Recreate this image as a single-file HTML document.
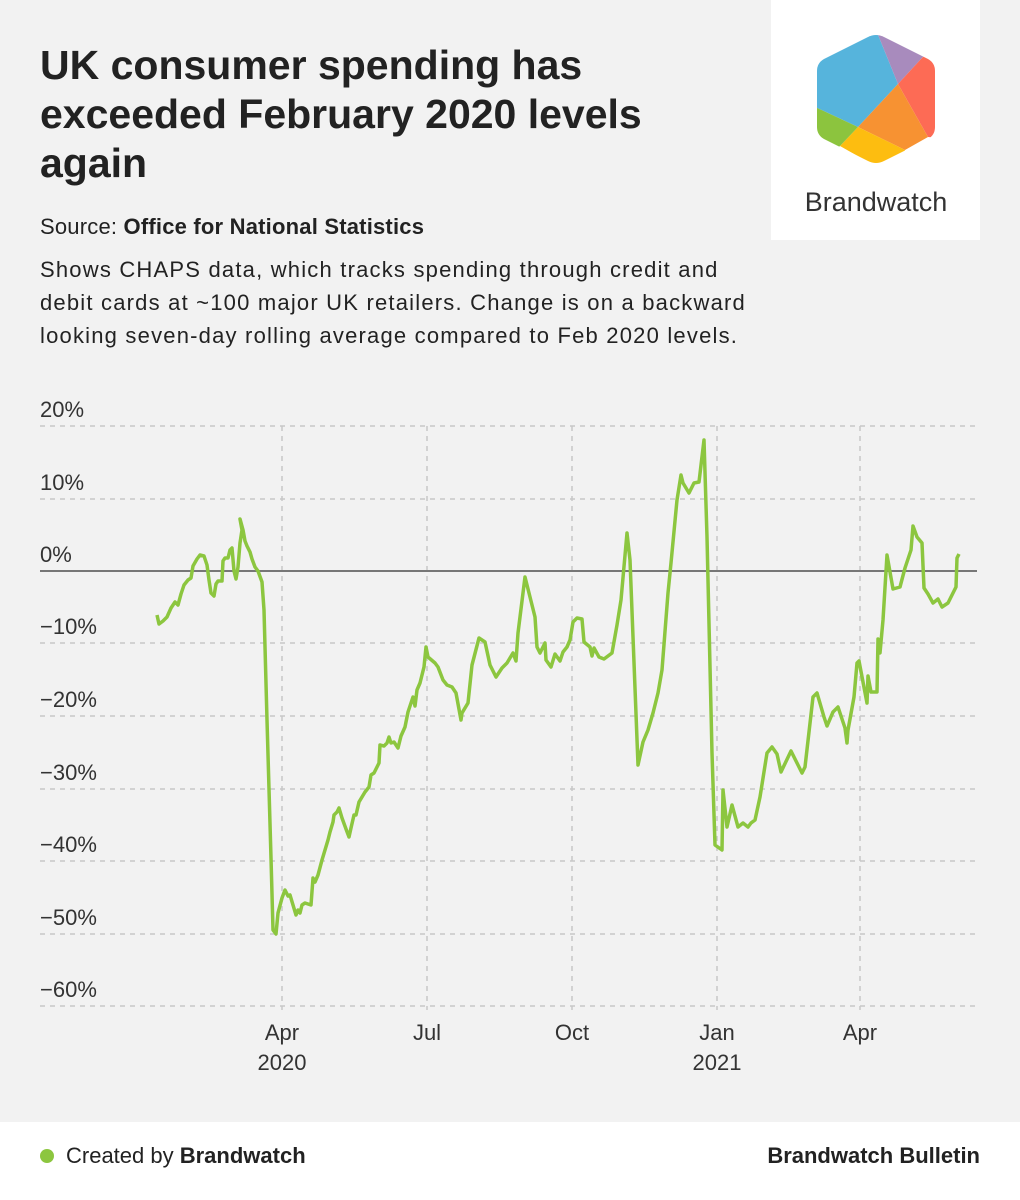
<!DOCTYPE html>
<html><head><meta charset="utf-8"><style>
body{margin:0;width:1020px;height:1200px;background:#f2f2f2;font-family:"Liberation Sans",sans-serif;position:relative;overflow:hidden;color:#222}
.t{position:absolute;left:40px;top:41px;font-size:41px;font-weight:bold;line-height:49px;width:700px;color:#222}
.src{position:absolute;left:40px;top:214px;font-size:22px;letter-spacing:0.2px}
.desc{position:absolute;left:40px;top:253px;font-size:22px;line-height:33px;width:720px;letter-spacing:1.2px;white-space:nowrap}
.logo{position:absolute;left:771px;top:0;width:209px;height:240px;background:#fff}
.foot{position:absolute;left:0;top:1122px;width:1020px;height:78px;background:#fff}
</style></head><body>
<div class="t">UK consumer spending has exceeded February 2020 levels again</div>
<div class="src">Source: <b>Office for National Statistics</b></div>
<div class="desc">Shows CHAPS data, which tracks spending through credit and<br>debit cards at ~100 major UK retailers. Change is on a backward<br>looking seven-day rolling average compared to Feb 2020 levels.</div>
<div class="logo"></div>
<svg width="1020" height="1200" style="position:absolute;left:0;top:0" font-family="Liberation Sans, sans-serif">
<defs><clipPath id="hx"><path d="M868,37 Q876,33 884,37 L928,59 Q935,63 935,71 L935,127 Q935,135 928,139 L884,161 Q876,165 868,161 L824,139 Q817,135 817,127 L817,71 Q817,63 824,59Z"/></clipPath></defs>
<g clip-path="url(#hx)">
<polygon points="800,20 872,20 898,84 858,127 800,100" fill="#56b4dc"/>
<polygon points="872,20 960,20 921,59 898,84" fill="#a88bbd"/>
<polygon points="921,59 960,20 960,140 928,137 898,84" fill="#fd6b55"/>
<polygon points="898,84 928,137 905,150 858,127" fill="#f79232"/>
<polygon points="858,127 905,150 900,180 840,146" fill="#fdbd10"/>
<polygon points="800,100 858,127 840,146 800,180" fill="#8cc43e"/>
</g>
<text x="876" y="211" font-size="27" fill="#333" text-anchor="middle">Brandwatch</text>
<g stroke="#c8c8c8" stroke-width="1.5" stroke-dasharray="5,5">
<line x1="40" x2="975" y1="426" y2="426"/><line x1="40" x2="975" y1="499" y2="499"/>
<line x1="40" x2="975" y1="643" y2="643"/><line x1="40" x2="975" y1="716" y2="716"/><line x1="40" x2="975" y1="789" y2="789"/><line x1="40" x2="975" y1="861" y2="861"/><line x1="40" x2="975" y1="934" y2="934"/><line x1="40" x2="975" y1="1006" y2="1006"/>
<line x1="282" x2="282" y1="426" y2="1010"/><line x1="427" x2="427" y1="426" y2="1010"/><line x1="572" x2="572" y1="426" y2="1010"/><line x1="717" x2="717" y1="426" y2="1010"/><line x1="860" x2="860" y1="426" y2="1010"/>
</g>
<line x1="40" x2="977" y1="571" y2="571" stroke="#777" stroke-width="2"/>
<g font-size="22" fill="#333">
<text x="40" y="417">20%</text><text x="40" y="490">10%</text><text x="40" y="562">0%</text><text x="40" y="634">−10%</text><text x="40" y="707">−20%</text><text x="40" y="780">−30%</text><text x="40" y="852">−40%</text><text x="40" y="925">−50%</text><text x="40" y="997">−60%</text>
<g text-anchor="middle"><text x="282" y="1040">Apr</text><text x="282" y="1070">2020</text><text x="427" y="1040">Jul</text><text x="572" y="1040">Oct</text><text x="717" y="1040">Jan</text><text x="717" y="1070">2021</text><text x="860" y="1040">Apr</text></g>
</g>
<polyline fill="none" stroke="#8cc63f" stroke-width="3.5" stroke-linejoin="round" points="157,615 159,624 163,621 167,617 171,608 175,602 178,605 181,594 184,585 188,580 191,578 193,566 197,559 200,555 204,556 207,565 209,580 211,593 214,596 216,584 218,581 222,581 223,561 225,558 228,558 230,550 232,548 234,571 236,579 238,567 240,543 242,530 240,519 243,530 245,541 247,546 250,552 252,559 255,567 258,571 262,582 264,610 267,720 271,858 273,930 276,934 278,913 282,898 285,890 288,896 290,895 293,905 296,915 298,910 300,913 302,905 305,903 311,905 313,878 315,882 318,875 322,860 325,850 328,840 330,832 333,822 334,815 337,812 339,808 342,818 346,829 349,837 351,828 354,815 356,815 359,802 362,797 365,792 369,787 371,775 374,773 379,763 380,745 384,746 387,743 389,737 391,743 394,742 398,748 401,736 405,727 408,712 413,697 415,706 417,690 420,683 424,667 426,647 428,657 435,663 438,667 443,680 447,685 452,687 456,693 461,720 462,713 468,703 472,665 479,638 485,642 490,665 496,677 502,668 507,663 513,653 516,661 518,633 525,577 535,617 537,647 540,653 545,643 546,660 551,667 555,654 560,661 563,652 567,647 570,640 573,622 577,618 582,619 584,642 590,647 592,656 594,648 599,657 604,659 612,653 617,625 621,600 627,533 630,560 638,765 643,742 648,730 653,713 658,693 662,670 668,593 671,563 677,500 681,475 683,483 689,493 694,483 699,482 704,440 707,537 712,753 715,845 722,850 723,790 727,827 732,805 738,827 743,823 748,827 751,823 755,820 760,797 767,753 772,747 777,754 781,772 791,751 798,765 802,773 805,767 813,697 817,693 824,717 827,726 833,712 838,707 845,728 847,743 848,730 854,697 857,663 859,661 867,703 868,676 871,692 877,692 878,639 880,653 883,620 887,555 893,589 900,587 905,568 911,550 913,526 917,537 922,543 924,588 928,594 933,603 938,599 942,607 948,603 956,587 957,558 959,554"/>
</svg>
<div class="foot">
<div style="position:absolute;left:40px;top:27px;width:14px;height:14px;border-radius:50%;background:#8cc63f"></div>
<div style="position:absolute;left:66px;top:21px;font-size:22px">Created by <b>Brandwatch</b></div>
<div style="position:absolute;right:40px;top:21px;font-size:22px;font-weight:bold">Brandwatch Bulletin</div>
</div>
</body></html>
